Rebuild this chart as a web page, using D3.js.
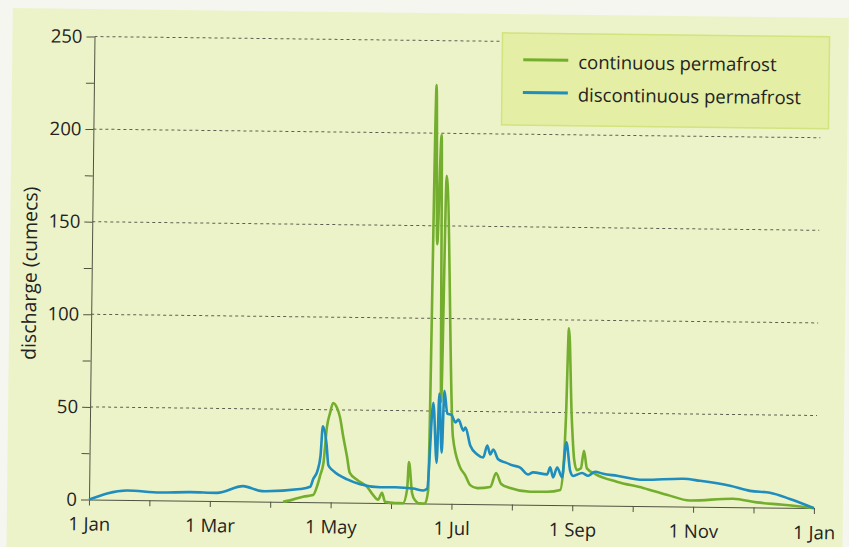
<!DOCTYPE html>
<html>
<head>
<meta charset="utf-8">
<script src="https://cdn.jsdelivr.net/npm/d3@7"></script>
<style>
  body { margin: 0; background: #f5f6f0; }
  svg { display: block; font-family: "Open Sans", sans-serif; }
</style>
</head>
<body>
<script>
// Values; x positions are in months since 1 Jan
const yTicks = [0, 25, 50, 75, 100, 125, 150, 175, 200, 225, 250];
const gridValues = [50, 100, 150, 200, 250];
const monthTicks = d3.range(0, 13);
const monthLabels = ['1 Jan', '1 Mar', '1 May', '1 Jul', '1 Sep', '1 Nov', '1 Jan'];
const seriesNames = ['continuous permafrost', 'discontinuous permafrost'];

const contMonths = [3.211, 3.327, 3.542, 3.707, 3.774, 3.823, 3.873, 3.924, 3.972, 4.022, 4.088,
  4.138, 4.196, 4.262, 4.311, 4.436, 4.601, 4.700, 4.783, 4.849, 4.899, 5.064, 5.197, 5.263,
  5.288, 5.346, 5.395, 5.478, 5.561, 5.611, 5.672, 5.713, 5.765, 5.809, 5.856, 6.011, 6.132,
  6.220, 6.306, 6.422, 6.637, 6.733, 6.819, 6.968, 7.299, 7.580, 7.796, 7.846, 7.878, 7.910,
  7.973, 8.022, 8.069, 8.135, 8.183, 8.234, 8.375, 8.731, 9.169, 9.561, 9.947, 10.659, 11.051,
  11.486, 12];
const contValues = [0, 0.8, 2.9, 3.8, 8.8, 14.7, 21.2, 40.7, 48.2, 53.7, 51,
  46, 35.5, 24.7, 16, 12.3, 8.6, 4.3, 1.7, 5.5, 0.6, 0, 0, 7.5,
  22.3, 5.5, 1.7, 0, 0, 7, 226, 140, 199, 55, 177, 36, 20,
  15.6, 10.2, 8.6, 9.3, 16.9, 11, 8.9, 7, 7.1, 8.2, 20.7, 47.6, 95.5,
  47.8, 24.6, 19, 20, 29.5, 20, 17, 13, 9.8, 6.3, 3.3, 4.5, 2.7,
  1.6, 0];

const discMonths = [0, 0.629, 1.175, 1.672, 2.118, 2.549, 2.863, 3.492, 3.658, 3.707, 3.774,
  3.823, 3.856, 3.922, 3.955, 4.038, 4.270, 4.485, 4.816, 5.064, 5.362, 5.528, 5.594, 5.680,
  5.747, 5.778, 5.828, 5.861, 5.914, 5.983, 6.049, 6.099, 6.183, 6.216, 6.299, 6.417, 6.516,
  6.581, 6.632, 6.681, 6.764, 6.880, 7.014, 7.130, 7.262, 7.345, 7.577, 7.627, 7.676, 7.742,
  7.825, 7.890, 7.958, 8.007, 8.156, 8.255, 8.371, 8.504, 8.735, 9.166, 9.828, 10.109, 10.607,
  10.939, 11.269, 11.600, 12];
const discValues = [0, 5.1, 4.2, 4.6, 4.4, 8.2, 5.6, 7, 8.3, 12.5, 16.8,
  25, 41, 31, 20, 17, 12.5, 10, 8.5, 8.6, 8, 7, 8, 54.4,
  22, 59.4, 27.5, 61, 48.6, 48, 44, 45.5, 39.6, 41.3, 31.6, 26.8, 25.2,
  31.7, 26.9, 29.6, 24.3, 22.7, 21.1, 20, 16.3, 17.5, 16.5, 20.3, 14.9, 20.3,
  15, 34, 18.5, 15.8, 17.5, 16, 18.2, 17.2, 16.2, 14.2, 15, 14, 11.5,
  8.9, 8, 4.8, 0];

const seriesColors = ['#74ae2e', '#1f8dbd'];

const width = 849, height = 547;
const svg = d3.select('body').append('svg').attr('width', width).attr('height', height);

// the scanned page is slightly tilted
const g = svg.append('g').attr('transform', 'rotate(0.68,90,499.5)');

g.append('rect')
  .attr('x', 7).attr('y', 9).attr('width', 836).attr('height', 580)
  .attr('fill', '#edf3c8');

const x = d3.scaleLinear().domain([0, 12]).range([89, 814]);
const y = d3.scaleLinear().domain([0, 250]).range([499.5, 36.5]);

// dashed gridlines
g.append('g').selectAll('line').data(gridValues).enter().append('line')
  .attr('x1', x(0)).attr('x2', x(12) + 2)
  .attr('y1', d => y(d)).attr('y2', d => y(d))
  .attr('stroke', '#5d5f52').attr('stroke-width', 1)
  .attr('stroke-dasharray', '3,3');

// axes
const yAxis = g.append('g').attr('transform', `translate(${x(0)},0)`)
  .call(d3.axisLeft(y).tickValues(yTicks).tickSize(8).tickSizeOuter(0).tickPadding(4)
    .tickFormat(d => d % 50 === 0 ? d : ''));
const xAxis = g.append('g').attr('transform', `translate(0,${y(0)})`)
  .call(d3.axisBottom(x).tickValues(monthTicks).tickSize(6).tickSizeOuter(0).tickPadding(12)
    .tickFormat(d => d % 2 === 0 ? monthLabels[d / 2] : ''));
[yAxis, xAxis].forEach(a => {
  a.select('.domain').attr('stroke', '#4f5340');
  a.selectAll('.tick line').attr('stroke', '#4f5340');
  a.selectAll('text').attr('fill', '#222').attr('font-size', 18.5)
    .attr('font-family', '"Open Sans", sans-serif');
});

g.append('text')
  .attr('transform', 'translate(27,274) rotate(-90)')
  .attr('text-anchor', 'middle').attr('dy', '0.35em')
  .attr('font-size', 19.5).attr('fill', '#222')
  .text('discharge (cumecs)');

// series lines
const line = d3.line().x(d => x(d[0])).y(d => y(d[1])).curve(d3.curveMonotoneX);
const contData = contMonths.map((m, i) => [m, contValues[i]]);
const discData = discMonths.map((m, i) => [m, discValues[i]]);

g.append('path').datum(contData).attr('d', line)
  .attr('fill', 'none').attr('stroke', seriesColors[0]).attr('stroke-width', 2.6)
  .attr('stroke-linejoin', 'round');
g.append('path').datum(discData).attr('d', line)
  .attr('fill', 'none').attr('stroke', seriesColors[1]).attr('stroke-width', 2.6)
  .attr('stroke-linejoin', 'round');

// legend
const legend = g.append('g');
legend.append('rect')
  .attr('x', 497).attr('y', 28).attr('width', 327).attr('height', 92)
  .attr('fill', '#e4eea4').attr('stroke', '#d3e37e').attr('stroke-width', 1.5);
const rows = legend.selectAll('g.row').data(seriesNames).enter().append('g')
  .attr('class', 'row')
  .attr('transform', (d, i) => `translate(0,${54.6 + i * 32.7})`);
rows.append('line')
  .attr('x1', 518).attr('x2', 563)
  .attr('stroke', (d, i) => seriesColors[i]).attr('stroke-width', 3);
rows.append('text')
  .attr('x', 573).attr('y', 2).attr('dy', '0.35em')
  .attr('font-size', 18.5).attr('fill', '#222')
  .text(d => d);
</script>
</body>
</html>
